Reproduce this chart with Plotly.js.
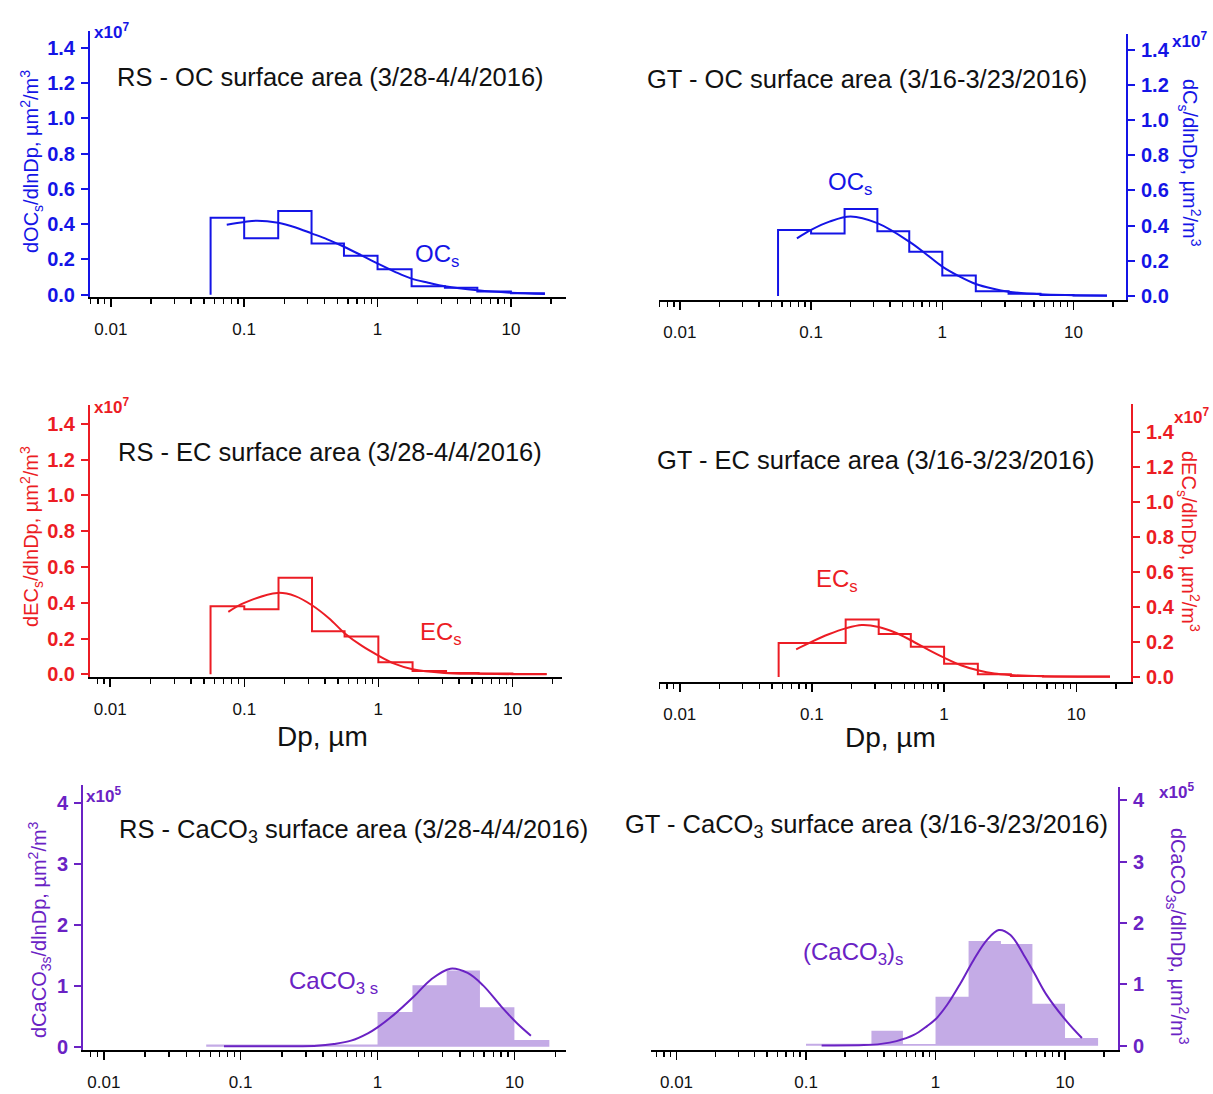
<!DOCTYPE html>
<html>
<head>
<meta charset="utf-8">
<script src="https://cdn.plot.ly/plotly-3.0.1.min.js"></script>
<style>html,body{margin:0;padding:0;background:#fff;}#chart{width:1213px;height:1094px;}</style>
</head>
<body>
<div id="chart"></div>
<script>
// ---- Data ----
// MOUDI stage edges, Dp in µm
const binEdges = [0.056, 0.1, 0.18, 0.32, 0.56, 1.0, 1.8, 3.2, 5.6, 10, 18];

// Measured dX/dlnDp per bin (OC/EC in units of 1e7, CaCO3 in units of 1e5)
const rsOC    = [0.437, 0.320, 0.475, 0.290, 0.221, 0.145, 0.048, 0.040, 0.018, 0.008];
const gtOC    = [0.375, 0.355, 0.494, 0.368, 0.251, 0.117, 0.027, 0.012, 0.005, 0.002];
const rsEC    = [0.380, 0.363, 0.540, 0.240, 0.211, 0.068, 0.018, 0.008, 0.004, 0.002];
const gtEC    = [0.194, 0.194, 0.328, 0.246, 0.173, 0.076, 0.015, 0.006, 0.003, 0.002];
const rsCaCO3 = [0.035, 0.035, 0.035, 0.035, 0.035, 0.568, 1.005, 1.250, 0.645, 0.109];
const gtCaCO3 = [0.000, 0.030, 0.030, 0.244, 0.027, 0.800, 1.707, 1.658, 0.683, 0.125];

// Log-normal fit curves
const rsOCfitX = [0.074, 0.1, 0.125, 0.18, 0.24, 0.32, 0.42, 0.56, 0.75, 1.0, 1.35, 1.8, 2.4, 3.2, 5.6, 10, 18];
const rsOCfitY = [0.397, 0.413, 0.420, 0.408, 0.383, 0.348, 0.314, 0.272, 0.225, 0.177, 0.130, 0.091, 0.068, 0.048, 0.025, 0.011, 0.004];
const gtOCfitX = [0.078, 0.1, 0.138, 0.2, 0.32, 0.56, 0.75, 1.0, 1.36, 1.8, 2.4, 3.2, 5.6, 10, 18];
const gtOCfitY = [0.328, 0.376, 0.423, 0.452, 0.414, 0.309, 0.239, 0.167, 0.110, 0.068, 0.042, 0.024, 0.009, 0.004, 0.001];
const rsECfitX = [0.076, 0.1, 0.177, 0.24, 0.32, 0.43, 0.56, 0.75, 1.0, 1.33, 1.8, 3.1, 5.3, 10, 18];
const rsECfitY = [0.349, 0.399, 0.455, 0.437, 0.386, 0.312, 0.230, 0.160, 0.105, 0.058, 0.028, 0.008, 0.003, 0.001, 0.0005];
const gtECfitX = [0.076, 0.1, 0.134, 0.18, 0.239, 0.32, 0.43, 0.56, 0.75, 1.0, 1.34, 1.8, 2.4, 3.2, 5.6, 18];
const gtECfitY = [0.158, 0.202, 0.244, 0.278, 0.297, 0.286, 0.253, 0.210, 0.158, 0.110, 0.067, 0.038, 0.019, 0.011, 0.004, 0.001];
const rsCaCO3fitX = [0.0755, 0.15, 0.36, 0.48, 0.64, 0.85, 1.0, 1.32, 1.85, 2.45, 3.4, 4.55, 5.9, 8.0, 10.4, 13.2];
const rsCaCO3fitY = [0.005, 0.005, 0.015, 0.044, 0.098, 0.219, 0.317, 0.525, 0.825, 1.098, 1.279, 1.208, 1.005, 0.661, 0.388, 0.180];
const gtCaCO3fitX = [0.132, 0.28, 0.38, 0.5, 0.68, 0.86, 1.0, 1.23, 1.56, 1.97, 2.5, 3.08, 3.79, 4.8, 5.8, 7.2, 10.3, 13.5];
const gtCaCO3fitY = [0.005, 0.010, 0.030, 0.075, 0.175, 0.320, 0.430, 0.667, 1.019, 1.398, 1.724, 1.886, 1.805, 1.480, 1.180, 0.829, 0.396, 0.125];

// Tick labels
const xTickVals = [0.01, 0.1, 1, 10];
const xTickText = ['0.01', '0.1', '1', '10'];
const ecTickVals = [0, 0.2, 0.4, 0.6, 0.8, 1.0, 1.2, 1.4];
const ecTickText = ['0.0', '0.2', '0.4', '0.6', '0.8', '1.0', '1.2', '1.4'];
const caTickVals = [0, 1, 2, 3, 4];
const caTickText = ['0', '1', '2', '3', '4'];

// Text
const titles = [
  'RS - OC surface area (3/28-4/4/2016)',
  'GT - OC surface area (3/16-3/23/2016)',
  'RS - EC surface area (3/28-4/4/2016)',
  'GT - EC surface area (3/16-3/23/2016)',
  'RS - CaCO<sub>3</sub> surface area (3/28-4/4/2016)',
  'GT - CaCO<sub>3</sub> surface area (3/16-3/23/2016)'
];
const seriesLabels = ['OC<sub>s</sub>', 'OC<sub>s</sub>', 'EC<sub>s</sub>', 'EC<sub>s</sub>', 'CaCO<sub>3 s</sub>', '(CaCO<sub>3</sub>)<sub>s</sub>'];
const yTitles = [
  'dOC<sub>s</sub>/dlnDp, µm<sup>2</sup>/m<sup>3</sup>',
  'dC<sub>s</sub>/dlnDp, µm<sup>2</sup>/m<sup>3</sup>',
  'dEC<sub>s</sub>/dlnDp, µm<sup>2</sup>/m<sup>3</sup>',
  'dEC<sub>s</sub>/dlnDp, µm<sup>2</sup>/m<sup>3</sup>',
  'dCaCO<sub>3s</sub>/dlnDp, µm<sup>2</sup>/m<sup>3</sup>',
  'dCaCO<sub>3s</sub>/dlnDp, µm<sup>2</sup>/m<sup>3</sup>'
];
const scaleLabels = ['x10<sup>7</sup>', 'x10<sup>7</sup>', 'x10<sup>7</sup>', 'x10<sup>7</sup>', 'x10<sup>5</sup>', 'x10<sup>5</sup>'];
const xTitle = 'Dp, µm';

// ---- Styling ----
const W = 1213, H = 1094;
const FONT = 'Liberation Sans, Arial, sans-serif';
const BLUE = '#1414e6', RED = '#ec1c24', PURPLE = '#6a22c4', FILL = '#c4abe6';
const px = v => v / W;
const py = v => 1 - v / H;

const minorVals = [];
[0.001, 0.01, 0.1, 1, 10].forEach(d => { for (let k = 2; k <= 9; k++) minorVals.push(+(d * k).toPrecision(3)); });

// panel geometry: [left, right, top, bottom] px, x range (log), y range, side
const panels = [
  {box: [90, 566, 31, 297],  xr: [-2.156, 1.413], yr: [-0.013, 1.496], side: 'left',  color: BLUE},
  {box: [659, 1126, 34, 300], xr: [-2.159, 1.400], yr: [-0.023, 1.490], side: 'right', color: BLUE},
  {box: [90, 562, 405, 677], xr: [-2.151, 1.370], yr: [-0.015, 1.505], side: 'left',  color: RED},
  {box: [659, 1131, 404, 682], xr: [-2.157, 1.414], yr: [-0.029, 1.562], side: 'right', color: RED},
  {box: [83, 566, 785, 1050], xr: [-2.152, 1.377], yr: [-0.055, 4.290], side: 'left',  color: PURPLE},
  {box: [651, 1118, 787, 1050], xr: [-2.197, 1.409], yr: [-0.070, 4.217], side: 'right', color: PURPLE}
];

const layout = {
  width: W, height: H, autosize: false,
  margin: {l: 0, r: 0, t: 0, b: 0},
  paper_bgcolor: '#fff', plot_bgcolor: 'rgba(0,0,0,0)',
  showlegend: false,
  font: {family: FONT, color: '#111'},
  annotations: []
};

panels.forEach((p, i) => {
  const n = i + 1;
  const isCa = i >= 4;
  layout['xaxis' + n] = {
    domain: [px(p.box[0]), px(p.box[1])], anchor: 'y' + n,
    type: 'log', range: p.xr,
    tickmode: 'array', tickvals: xTickVals, ticktext: xTickText,
    ticks: 'outside', ticklen: 8, tickwidth: 1.5, tickcolor: '#000',
    ticklabelstandoff: 8,
    showline: true, linecolor: '#000', linewidth: 2,
    showgrid: false, zeroline: false,
    tickfont: {family: FONT, size: 17, color: '#111'},
    minor: {tickmode: 'array', tickvals: minorVals, ticks: 'outside', ticklen: 5, tickwidth: 1.3, tickcolor: '#000', showgrid: false}
  };
  layout['yaxis' + n] = {
    domain: [py(p.box[3]), py(p.box[2])], anchor: 'x' + n,
    side: p.side, range: p.yr,
    tickmode: 'array',
    tickvals: isCa ? caTickVals : ecTickVals,
    ticktext: isCa ? caTickText : ecTickText,
    ticks: 'outside', ticklen: 7, tickwidth: 2, tickcolor: p.color,
    ticklabelstandoff: 2,
    showline: true, linecolor: p.color, linewidth: 2,
    showgrid: false, zeroline: false,
    tickfont: {family: FONT, size: 20, color: p.color, weight: 'bold'}
  };
});

const data = [];
function stepTrace(vals, n, color) {
  return {
    type: 'scatter', mode: 'lines', xaxis: 'x' + n, yaxis: 'y' + n,
    x: [binEdges[0]].concat(binEdges),
    y: [0].concat(vals, [vals[vals.length - 1]]),
    line: {shape: 'hv', color: color, width: 2},
    hoverinfo: 'skip'
  };
}
function fillTrace(vals, n) {
  return {
    type: 'scatter', mode: 'lines', xaxis: 'x' + n, yaxis: 'y' + n,
    x: binEdges.slice(),
    y: vals.concat([vals[vals.length - 1]]),
    line: {shape: 'hv', color: FILL, width: 0},
    fill: 'tozeroy', fillcolor: FILL,
    hoverinfo: 'skip'
  };
}
function fitTrace(xs, ys, n, color) {
  return {
    type: 'scatter', mode: 'lines', xaxis: 'x' + n, yaxis: 'y' + n,
    x: xs, y: ys,
    line: {shape: 'spline', smoothing: 1, color: color, width: 2},
    hoverinfo: 'skip'
  };
}
data.push(stepTrace(rsOC, 1, BLUE), fitTrace(rsOCfitX, rsOCfitY, 1, BLUE));
data.push(stepTrace(gtOC, 2, BLUE), fitTrace(gtOCfitX, gtOCfitY, 2, BLUE));
data.push(stepTrace(rsEC, 3, RED), fitTrace(rsECfitX, rsECfitY, 3, RED));
data.push(stepTrace(gtEC, 4, RED), fitTrace(gtECfitX, gtECfitY, 4, RED));
data.push(fillTrace(rsCaCO3, 5), fitTrace(rsCaCO3fitX, rsCaCO3fitY, 5, PURPLE));
data.push(fillTrace(gtCaCO3, 6), fitTrace(gtCaCO3fitX, gtCaCO3fitY, 6, PURPLE));

function ann(text, x, y, opts) {
  layout.annotations.push(Object.assign({
    text: text, x: px(x), y: py(y), xref: 'paper', yref: 'paper',
    showarrow: false, xanchor: 'center', yanchor: 'middle'
  }, opts));
}

const titlePos = [[331, 77], [867, 79], [330, 452], [876, 460], [353, 831], [866, 826]];
const labelPos = [[437, 255], [850, 184], [441, 633], [837, 580], [333, 982], [853, 953]];
const yTitlePos = [[31, 162], [1190, 163], [31, 537], [1188, 541], [39, 930], [1178, 936]];
const scalePos = [[92, 31], [1170, 40], [92, 406], [1172, 416], [84, 795], [1157, 791]];

panels.forEach((p, i) => {
  ann(titles[i], titlePos[i][0], titlePos[i][1], {font: {family: FONT, size: 25.5, color: '#111'}});
  ann(seriesLabels[i], labelPos[i][0], labelPos[i][1], {font: {family: FONT, size: 24, color: p.color}});
  ann(yTitles[i], yTitlePos[i][0], yTitlePos[i][1], {textangle: p.side === 'left' ? -90 : 90, font: {family: FONT, size: 20, color: p.color}});
  ann(scaleLabels[i], scalePos[i][0], scalePos[i][1], {xanchor: 'left', font: {family: FONT, size: 17, color: p.color, weight: 'bold'}});
});
ann(xTitle, 322, 736, {font: {family: FONT, size: 28, color: '#111'}});
ann(xTitle, 890, 737, {font: {family: FONT, size: 28, color: '#111'}});

Plotly.newPlot('chart', data, layout, {staticPlot: true, displayModeBar: false});
</script>
</body>
</html>
